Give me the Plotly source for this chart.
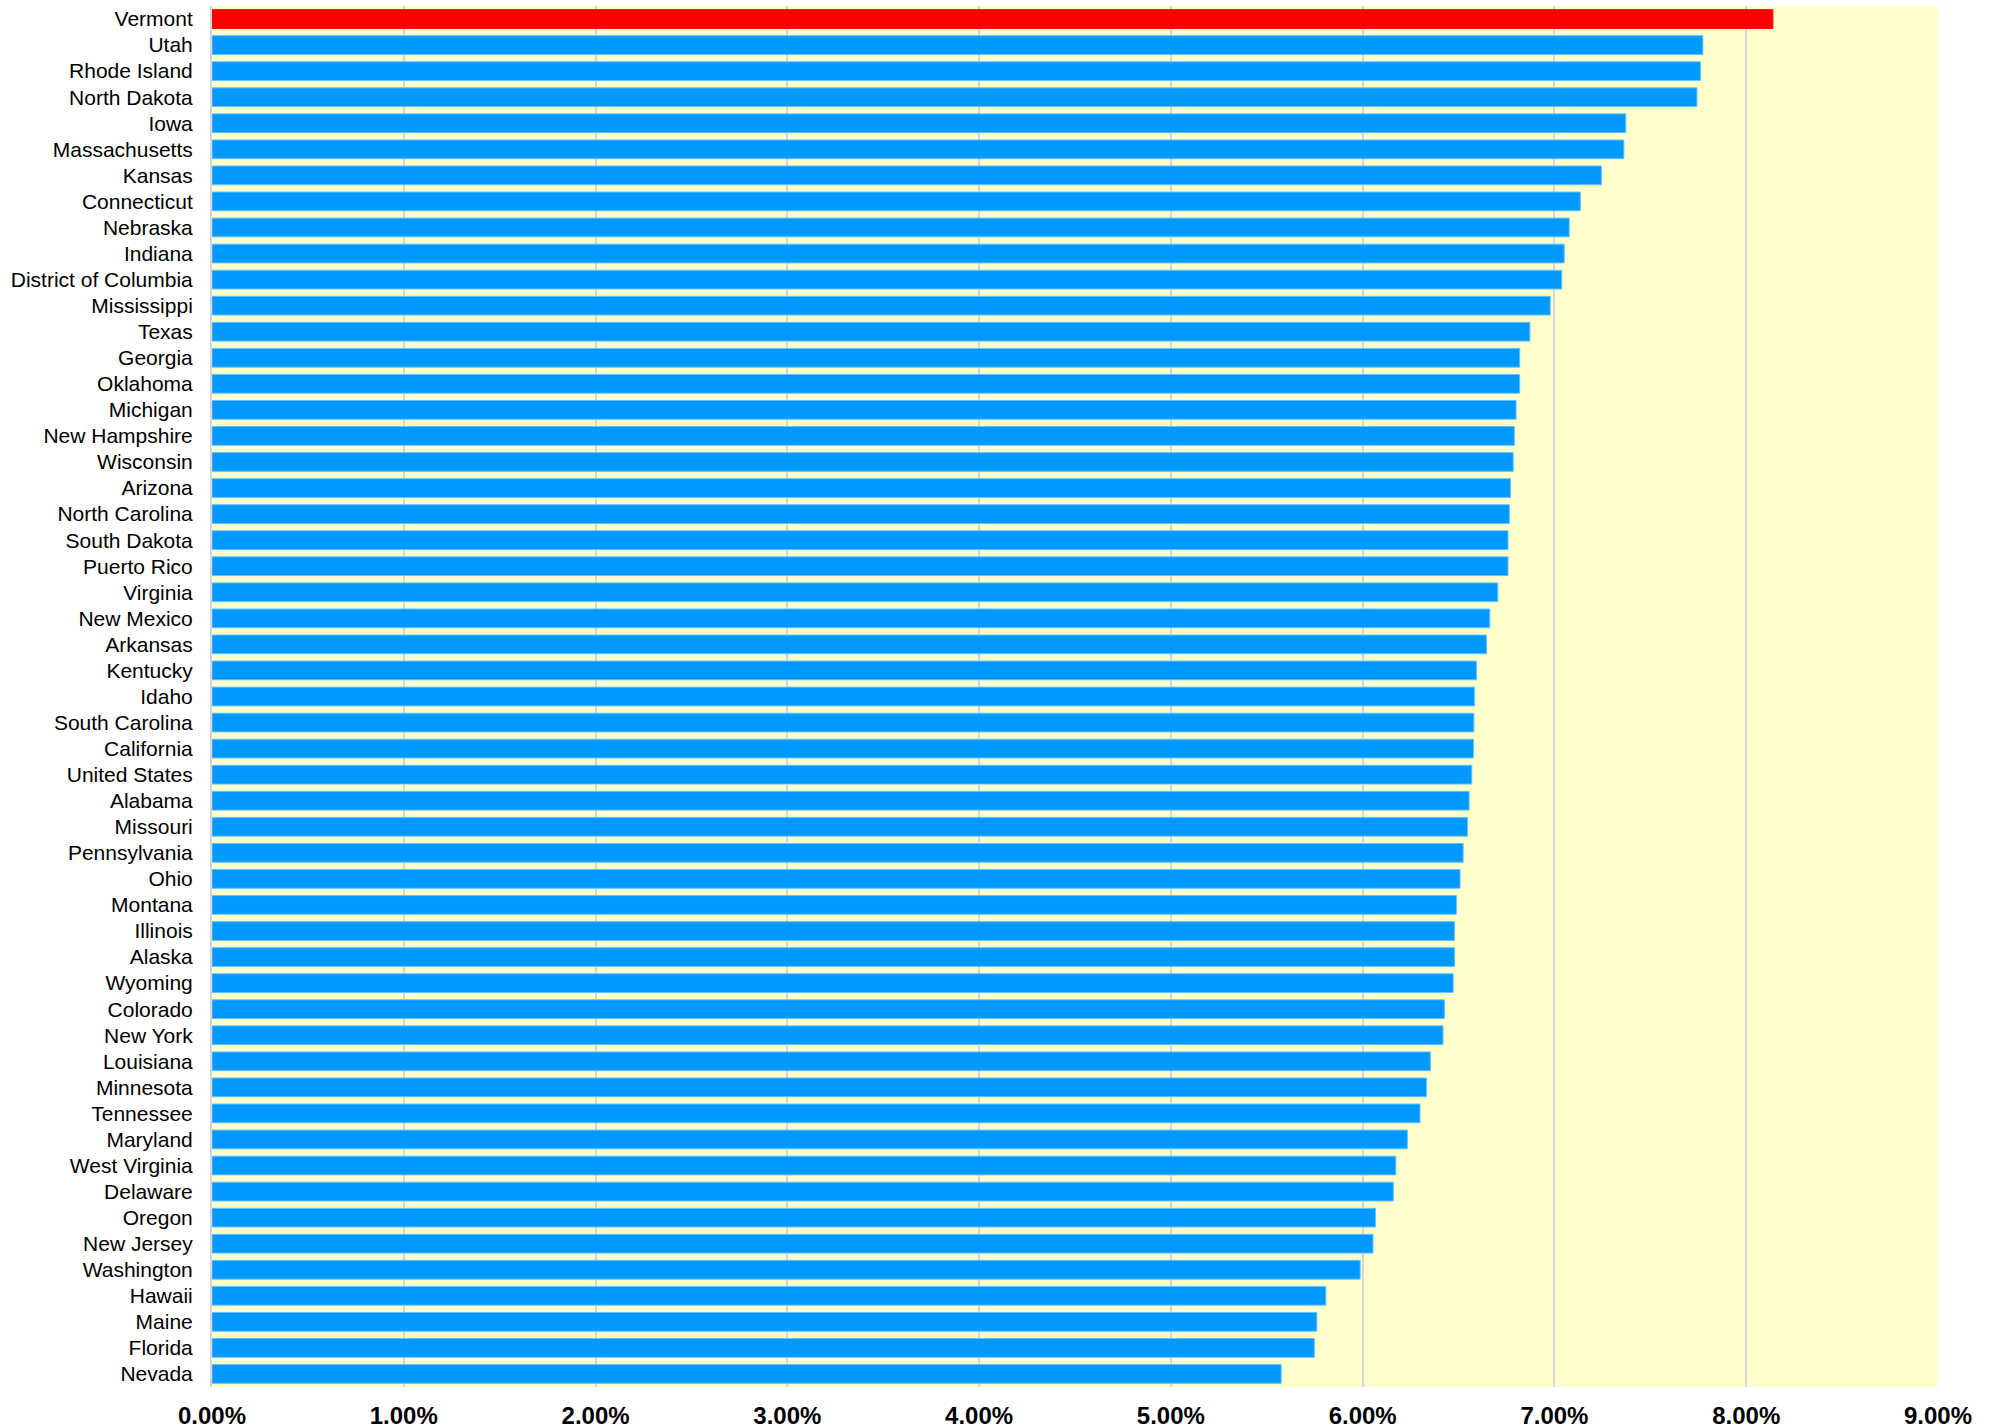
import plotly.graph_objects as go

states = ["Vermont", "Utah", "Rhode Island", "North Dakota", "Iowa", "Massachusetts", "Kansas",
          "Connecticut", "Nebraska", "Indiana", "District of Columbia", "Mississippi", "Texas",
          "Georgia", "Oklahoma", "Michigan", "New Hampshire", "Wisconsin", "Arizona",
          "North Carolina", "South Dakota", "Puerto Rico", "Virginia", "New Mexico", "Arkansas",
          "Kentucky", "Idaho", "South Carolina", "California", "United States", "Alabama",
          "Missouri", "Pennsylvania", "Ohio", "Montana", "Illinois", "Alaska", "Wyoming",
          "Colorado", "New York", "Louisiana", "Minnesota", "Tennessee", "Maryland",
          "West Virginia", "Delaware", "Oregon", "New Jersey", "Washington", "Hawaii", "Maine",
          "Florida", "Nevada"]

values = [8.139, 7.774, 7.762, 7.743, 7.372, 7.362, 7.245,
          7.135, 7.077, 7.051, 7.038, 6.978, 6.872,
          6.819, 6.819, 6.800, 6.791, 6.785, 6.771,
          6.765, 6.758, 6.758, 6.705, 6.663, 6.646,
          6.594, 6.583, 6.580, 6.578, 6.569, 6.555,
          6.547, 6.524, 6.508, 6.489, 6.479, 6.479, 6.472,
          6.426, 6.419, 6.353, 6.333, 6.299, 6.233,
          6.173, 6.160, 6.067, 6.054, 5.987, 5.808, 5.761,
          5.748, 5.575]

highlight = "Vermont"
colors = ["#FF0000" if s == highlight else "#0099FF" for s in states]
line_colors = ["#FF0000" if s == highlight else "#66C2FF" for s in states]

fig = go.Figure(go.Bar(
    x=[v / 100 for v in values],
    y=states,
    orientation="h",
    marker=dict(color=colors, line=dict(color=line_colors, width=1)),
    hoverinfo="x+y",
))

fig.update_layout(
    width=1997, height=1428,
    margin=dict(l=212, r=59, t=6, b=41),
    paper_bgcolor="white",
    plot_bgcolor="#FFFFCC",
    bargap=0.28,
    showlegend=False,
    font=dict(family="Liberation Sans, Arial, sans-serif", color="black"),
)

fig.update_xaxes(
    range=[0, 0.09], dtick=0.01, tickformat=".2%",
    showgrid=True, gridcolor="#D4D4DC", gridwidth=2,
    zeroline=False, showline=False,
    tickfont=dict(size=24, family="Liberation Sans, Arial, sans-serif", color="black", weight="bold"),
    ticks="", ticklabelstandoff=12,
    automargin=False,
    fixedrange=True,
)

fig.update_yaxes(
    categoryorder="array", categoryarray=states, autorange="reversed",
    showgrid=False, showline=True, linecolor="#D4D4DC", linewidth=2,
    tickfont=dict(size=21, family="Liberation Sans, Arial, sans-serif", color="black"),
    ticks="", ticklabelstandoff=13,
    automargin=False,
    fixedrange=True,
)

fig.write_html(
    "out.html",
    config={"displayModeBar": False},
    post_script="document.body.style.margin='0px';document.body.style.overflow='hidden';",
)
